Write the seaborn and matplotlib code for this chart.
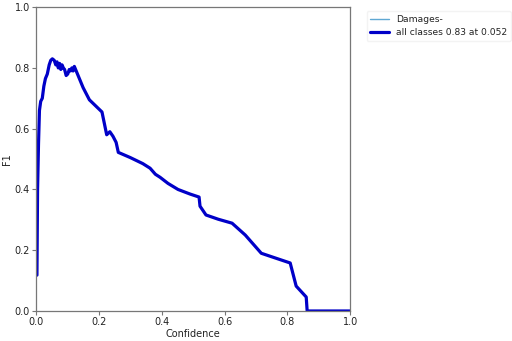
import pandas as pd
import matplotlib.pyplot as plt
import seaborn as sns

sns.set_theme(style="ticks")
plt.rcParams['font.family'] = ['DejaVu Sans']

confidence = [0.003, 0.005, 0.008, 0.011, 0.015, 0.02, 0.025, 0.03, 0.036, 0.042,
              0.047, 0.052, 0.058, 0.063, 0.067, 0.071, 0.075, 0.079, 0.083, 0.087,
              0.091, 0.096, 0.101, 0.106, 0.11, 0.114, 0.118, 0.122, 0.13, 0.14,
              0.15, 0.16, 0.17, 0.185, 0.2, 0.21, 0.215, 0.22, 0.225, 0.235,
              0.245, 0.255, 0.262, 0.3, 0.34, 0.363, 0.38, 0.395, 0.42, 0.452,
              0.49, 0.519, 0.522, 0.541, 0.58, 0.624, 0.666, 0.717, 0.76, 0.809,
              0.828, 0.86, 0.863, 0.9, 0.95, 1.0]
f1 = [0.118, 0.40, 0.55, 0.66, 0.69, 0.70, 0.74, 0.765, 0.78, 0.81,
      0.825, 0.83, 0.825, 0.81, 0.82, 0.80, 0.815, 0.795, 0.81, 0.80,
      0.795, 0.775, 0.78, 0.795, 0.79, 0.80, 0.79, 0.805, 0.785, 0.76,
      0.735, 0.715, 0.695, 0.68, 0.665, 0.655, 0.63, 0.605, 0.58, 0.59,
      0.575, 0.555, 0.522, 0.505, 0.485, 0.47, 0.45, 0.44, 0.42, 0.40,
      0.385, 0.375, 0.345, 0.316, 0.302, 0.289, 0.25, 0.19, 0.175, 0.158,
      0.082, 0.046, 0.0, 0.0, 0.0, 0.0]

df = pd.DataFrame({'Confidence': confidence, 'F1': f1})

fig = plt.figure(figsize=(5.12, 3.41), dpi=100)
ax = fig.add_axes([0.0703, 0.088, 0.6137, 0.891])

sns.lineplot(data=df, x='Confidence', y='F1', ax=ax, color='#5fa8d3',
             linewidth=1, label='Damages-')
sns.lineplot(data=df, x='Confidence', y='F1', ax=ax, color='#0000c8',
             linewidth=2.3, label='all classes 0.83 at 0.052')

ax.set_xlim(0, 1)
ax.set_ylim(0, 1)
ax.set_xticks([0.0, 0.2, 0.4, 0.6, 0.8, 1.0])
ax.set_yticks([0.0, 0.2, 0.4, 0.6, 0.8, 1.0])
ax.tick_params(labelsize=7, length=3, width=0.8, pad=1.5, colors='#777777',
               labelcolor='#222222')
ax.set_xlabel('Confidence', fontsize=7, labelpad=1, color='#222222')
ax.set_ylabel('F1', fontsize=7, labelpad=2, color='#222222')
for s in ax.spines.values():
    s.set_color('#777777')
    s.set_linewidth(0.9)

handles, labels = ax.get_legend_handles_labels()
ax.get_legend().remove()
leg = fig.legend(handles, labels, loc='upper left', bbox_to_anchor=(0.707, 0.98),
                 fontsize=6.6, frameon=True, fancybox=True, framealpha=0.8,
                 edgecolor='#f0f0f0', handlelength=2.0, handletextpad=0.8,
                 borderpad=0.4, labelspacing=0.45)
for t in leg.get_texts():
    t.set_color('#222222')

plt.savefig('out.png', dpi=100)
plt.close()
